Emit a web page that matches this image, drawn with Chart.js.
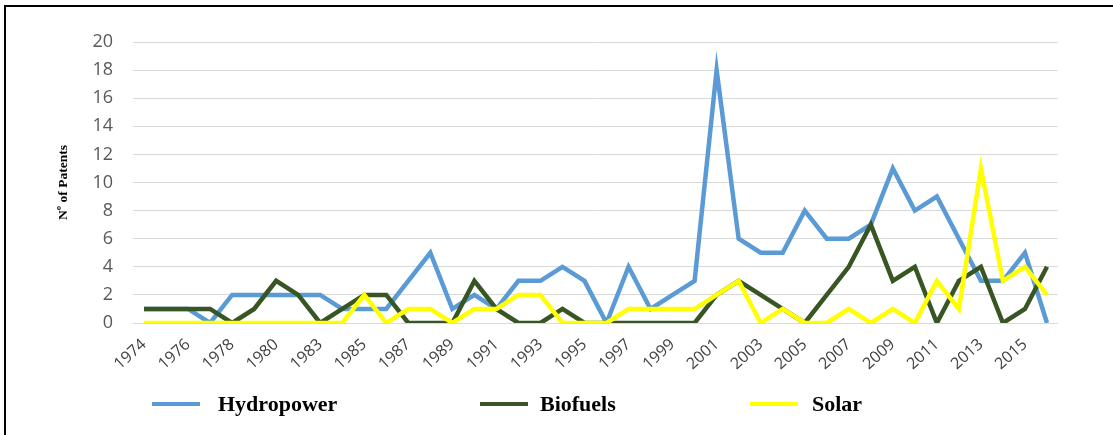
<!DOCTYPE html>
<html>
<head>
<meta charset="utf-8">
<script src="https://cdn.jsdelivr.net/npm/chart.js@4"></script>
<style>
    html, body { margin: 0; padding: 0; background: #ffffff; }
    canvas { display: block; }
</style>
</head>
<body>
<canvas id="patent_chart" width="1113" height="435"></canvas>
<script>
// 年（1982年はデータなし）
const years = [
    '1974', '1975', '1976', '1977', '1978', '1979', '1980', '1981',
    '1983', '1984', '1985', '1986', '1987', '1988', '1989', '1990',
    '1991', '1992', '1993', '1994', '1995', '1996', '1997', '1998',
    '1999', '2000', '2001', '2002', '2003', '2004', '2005', '2006',
    '2007', '2008', '2009', '2010', '2011', '2012', '2013', '2014',
    '2015', '2016'
];
// 特許件数
const hydropower = [1, 1, 1, 0, 2, 2, 2, 2, 2, 1, 1, 1, 3, 5, 1, 2, 1, 3, 3, 4, 3, 0, 4, 1, 2, 3, 18, 6, 5, 5, 8, 6, 6, 7, 11, 8, 9, 6, 3, 3, 5, 0];
const biofuels   = [1, 1, 1, 1, 0, 1, 3, 2, 0, 1, 2, 2, 0, 0, 0, 3, 1, 0, 0, 1, 0, 0, 0, 0, 0, 0, 2, 3, 2, 1, 0, 2, 4, 7, 3, 4, 0, 3, 4, 0, 1, 4];
const solar      = [0, 0, 0, 0, 0, 0, 0, 0, 0, 0, 2, 0, 1, 1, 0, 1, 1, 2, 2, 0, 0, 0, 1, 1, 1, 1, 2, 3, 0, 1, 0, 0, 1, 0, 1, 0, 3, 1, 11, 3, 4, 2];
// Y軸の目盛
const yTicks = [0, 2, 4, 6, 8, 10, 12, 14, 16, 18, 20];

const seriesNames = ['Hydropower', 'Biofuels', 'Solar'];
const seriesColors = ['#5b9bd5', '#375623', '#ffff00'];

// 凡例の位置（線の開始位置・文字の開始位置）
const legendLineX = [152, 480, 750];
const legendTextX = [218, 540, 812];
const legendY = 404;

// 背景と枠線
const framePlugin = {
    id: 'frame',
    beforeDraw(chart) {
        const ctx = chart.ctx;
        ctx.save();
        ctx.fillStyle = '#ffffff';
        ctx.fillRect(0, 0, chart.width, chart.height);
        ctx.strokeStyle = '#000000';
        ctx.lineWidth = 2;
        ctx.beginPath();
        ctx.moveTo(5, chart.height);
        ctx.lineTo(5, 6);
        ctx.lineTo(chart.width, 6);
        ctx.stroke();
        ctx.restore();
    }
};

// 凡例を描画
const legendPlugin = {
    id: 'lineLegend',
    afterDraw(chart) {
        const ctx = chart.ctx;
        ctx.save();
        chart.data.datasets.forEach((ds, i) => {
            const x = legendLineX[i];
            ctx.strokeStyle = ds.borderColor;
            ctx.lineWidth = 4;
            ctx.beginPath();
            ctx.moveTo(x, legendY);
            ctx.lineTo(x + 48, legendY);
            ctx.stroke();
            ctx.fillStyle = '#000000';
            ctx.font = 'bold 22px "Liberation Serif", "Times New Roman", serif';
            ctx.textBaseline = 'middle';
            ctx.fillText(ds.label, legendTextX[i], legendY + 1);
        });
        ctx.restore();
    }
};

function createChart() {
    const ctx = document.getElementById('patent_chart').getContext('2d');
    const values = [hydropower, biofuels, solar];
    const datasets = values.map((data, i) => ({
        label: seriesNames[i],
        data: data,
        borderColor: seriesColors[i],
        backgroundColor: seriesColors[i],
        borderWidth: 4.5,
        pointRadius: 0,
        tension: 0,
        fill: false,
        order: 3 - i
    }));

    new Chart(ctx, {
        type: 'line',
        data: {
            labels: years,
            datasets: datasets
        },
        options: {
            responsive: false,
            animation: false,
            layout: {
                padding: { left: 55, right: 55, top: 42, bottom: 0 }
            },
            scales: {
                x: {
                    offset: true,
                    grid: { display: false },
                    border: { display: false },
                    ticks: {
                        autoSkip: false,
                        minRotation: 42,
                        maxRotation: 42,
                        padding: 4,
                        color: '#404040',
                        font: { family: '"Open Sans", sans-serif', size: 16 },
                        callback: function(value, index) {
                            return index % 2 === 0 ? years[index] : '';
                        }
                    },
                    afterFit(scale) {
                        scale.height = 112;
                    }
                },
                y: {
                    min: 0,
                    max: 20,
                    afterBuildTicks(scale) {
                        scale.ticks = yTicks.map(v => ({ value: v }));
                    },
                    grid: {
                        color: '#d9d9d9',
                        lineWidth: 1,
                        drawTicks: false
                    },
                    border: { display: false },
                    ticks: {
                        padding: 20,
                        color: '#595959',
                        font: { family: '"Open Sans", sans-serif', size: 18 }
                    },
                    title: {
                        display: true,
                        text: 'Nº of Patents',
                        color: '#000000',
                        padding: 0,
                        font: { family: '"Liberation Serif", "Times New Roman", serif', size: 13.5, weight: 'bold' }
                    },
                    afterFit(scale) {
                        scale.width = 78;
                    }
                }
            },
            plugins: {
                legend: { display: false },
                tooltip: { enabled: false }
            }
        },
        plugins: [framePlugin, legendPlugin]
    });
}

createChart();
</script>
</body>
</html>
